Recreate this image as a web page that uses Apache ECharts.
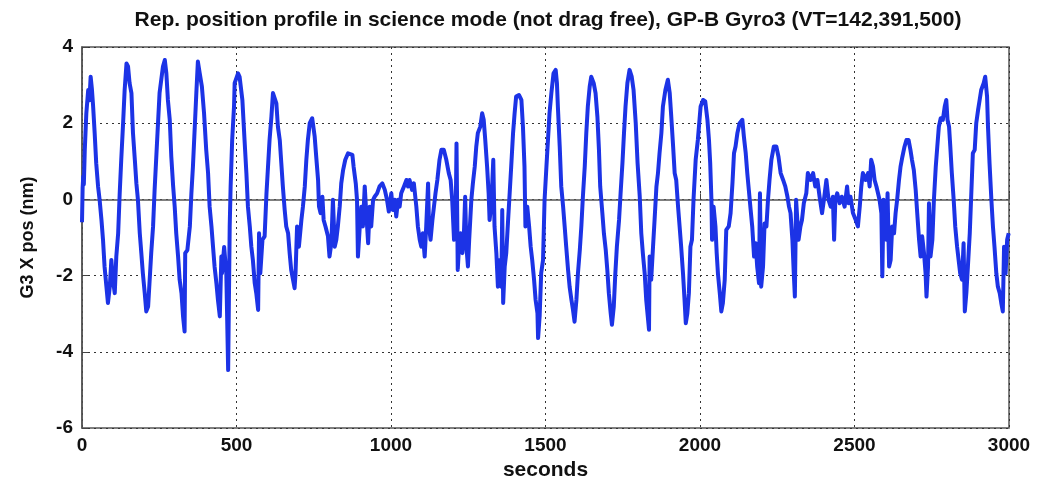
<!DOCTYPE html>
<html><head><meta charset="utf-8">
<script src="https://cdn.jsdelivr.net/npm/echarts@6/dist/echarts.min.js"></script>
<style>html,body{margin:0;padding:0;background:#fff}#c{width:1047px;height:492px}</style>
</head><body><div id="c"></div>
<script>
const titleText = 'Rep. position profile in science mode (not drag free), GP-B Gyro3 (VT=142,391,500)';
const xName = 'seconds';
const yName = 'G3 X pos (nm)';
const xTicks = [0, 500, 1000, 1500, 2000, 2500, 3000];
const yTicks = [-6, -4, -2, 0, 2, 4];

const seconds = [
0,2,4,6,9,14,20,24,28,32,36,41,46,52,57,63,68,73,79,84,90,95,100,106,111,117,122,127,133,138,144,149,154,160,165,171,176,181,187,192,197,203,208,214,219,224,230,235,241,246,251,262,268,273,278,284,289,295,300,305,311,316,322,327,332,334,341,349,354,359,365,370,375,381,388,395,402,408,413,419,424,429,435,440,446,451,453,460,467,473,478,481,486,492,
494,505,510,519,526,532,537,543,548,553,559,564,570,573,577,584,591,597,602,607,613,618,624,629,634,640,645,650,656,661,667,672,677,683,688,691,696,702,710,715,721,726,731,737,745,753,758,764,767,772,778,782,788,796,801,807,812,818,823,828,834,839,845,852,861,875,879,886,890,893,899,904,909,915,920,926,931,936,942,947,955,963,972,980,987,
993,1001,1006,1012,1017,1023,1028,1033,1042,1050,1055,1060,1068,1074,1082,1087,1093,1098,1103,1109,1114,1120,1123,1128,1134,1139,1144,1150,1157,1163,1171,1179,1187,1193,1198,1204,1209,1212,1216,1220,1225,1231,1236,1240,1244,1249,1253,1260,1265,1271,1276,1281,1289,1295,1300,1305,1311,1316,1319,1325,1331,1335,1341,1346,1352,1357,1360,1363,1368,1373,1379,1384,1389,1395,1400,1405,1414,1422,1427,1432,1435,1441,1447,1452,1457,1463,1468,1474,1476,1481,1486,1492,
1497,1503,1508,1513,1519,1526,1533,1537,1540,1546,1551,1557,1562,1567,1573,1578,1584,1589,1594,1600,1605,1611,1616,1621,1627,1632,1637,1643,1648,1656,1662,1668,1673,1677,1684,1689,1695,1700,1705,1711,1715,1721,1726,1731,1738,1743,1749,1754,1759,1765,1772,1779,1785,1792,1798,1805,1810,1815,1821,1826,1832,1835,1837,1842,1848,1853,1859,1864,1869,1875,1880,1888,1896,1902,1907,1913,1918,1923,1929,1934,1939,1945,1950,1954,1959,1964,1969,1974,1979,1986,1993,
2002,2010,2017,2024,2029,2033,2037,2039,2044,2050,2054,2058,2064,2069,2074,2080,2085,2093,2099,2105,2110,2115,2121,2128,2137,2142,2148,2153,2158,2164,2169,2175,2180,2185,2191,2194,2198,2204,2209,2215,2220,2225,2231,2239,2247,2254,2261,2269,2276,2283,2288,2293,2299,2303,2307,2311,2315,2319,2325,2330,2336,2344,2349,2358,2366,2373,2380,2387,2395,2401,2409,2416,2423,2430,2434,2438,2444,2452,2459,2468,2476,2481,2487,2495,
2504,2511,2517,2522,2527,2536,2544,2549,2554,2560,2565,2571,2576,2581,2587,2590,2594,2599,2603,2607,2612,2617,2622,2628,2633,2638,2644,2649,2655,2662,2668,2675,2681,2686,2692,2698,2703,2709,2714,2719,2725,2730,2733,2738,2741,2746,2752,2757,2763,2768,2773,2779,2786,2792,2797,2801,2806,2810,2815,2821,2826,2832,2837,2842,2848,2853,2857,2862,2867,2873,2878,2883,2889,2894,2900,2905,2910,2918,2923,2929,2932,2937,2943,2948,2953,2959,2964,2970,2975,2980,2984,2989,2994,2999
];
const posNm = [
-0.6,0.3,0.6,0.4,1.3,2.26,2.87,2.6,3.22,2.9,2.44,1.74,0.95,0.34,-0.01,-0.54,-1.06,-1.76,-2.29,-2.72,-2.29,-1.59,-2.11,-2.46,-1.5,-0.89,0.16,1.04,2.0,2.87,3.57,3.49,3.05,2.79,1.74,1.04,0.42,-0.01,-0.89,-1.41,-1.94,-2.46,-2.94,-2.81,-2.11,-1.41,-0.71,0.25,1.21,2.0,2.79,3.49,3.66,3.31,2.61,2.09,1.12,0.34,-0.19,-0.89,-1.5,-2.11,-2.46,-3.07,-3.47,-1.41,-1.33,-0.71,0.16,0.86,1.91,2.79,3.62,3.31,2.96,2.26,1.3,0.69,-0.19,-0.71,-1.24,-1.76,-2.2,-2.64,-3.07,-1.5,-1.94,-1.25,-1.94,-4.48,-0.71,0.34,1.56,2.44,
3.05,3.31,3.22,2.61,1.56,0.69,-0.19,-0.71,-1.24,-1.59,-2.2,-2.46,-2.9,-0.89,-1.94,-1.06,-0.97,0.16,0.86,1.56,2.17,2.79,2.74,2.52,1.91,1.56,0.95,0.34,-0.28,-0.71,-0.89,-1.41,-1.85,-2.11,-2.33,-1.94,-0.71,-1.24,-0.54,-0.19,0.34,1.04,1.56,2.0,2.13,1.65,1.12,0.51,-0.19,-0.36,0.07,-0.54,-0.71,-0.97,-1.5,-1.15,-0.01,-1.24,-1.06,-0.71,-0.19,0.42,0.77,1.04,1.21,1.17,0.86,0.42,-0.01,-1.5,-0.71,-0.19,-0.71,0.34,-0.36,-1.15,-0.19,-0.71,-0.01,0.07,0.16,0.34,0.42,0.25,-0.01,
-0.32,0.16,-0.28,-0.01,-0.45,-0.01,-0.19,0.16,0.34,0.51,0.34,0.51,0.25,0.42,-0.19,-0.71,-1.06,-1.24,-0.89,-1.5,-0.71,0.42,-0.71,-1.06,-0.54,-0.19,0.16,0.51,1.04,1.3,1.3,1.04,0.69,0.51,-0.01,-1.06,-0.71,1.47,-1.85,-1.24,-0.89,-1.41,-0.89,0.07,-1.24,-1.76,-1.06,-0.01,0.42,0.86,1.39,1.74,1.91,2.26,2.09,1.56,0.86,0.16,-0.54,-0.1,1.04,-0.71,-1.41,-2.29,-1.59,-2.29,-0.28,-2.72,-1.76,-1.41,-0.54,0.16,0.86,1.74,2.26,2.7,2.74,2.61,1.91,0.86,-0.71,-0.19,-0.71,-1.24,-1.59,-2.11,-2.64,-2.99,-3.64,-3.07,-1.94,-1.59,
-0.01,0.86,1.56,2.26,2.79,3.31,3.4,3.05,2.44,1.39,0.34,-0.19,-0.71,-1.24,-1.85,-2.29,-2.64,-2.9,-3.21,-2.64,-1.94,-1.33,-0.71,0.07,0.86,1.74,2.44,2.96,3.22,3.05,2.79,2.17,1.3,0.34,-0.36,-0.89,-1.33,-1.85,-2.46,-2.99,-3.29,-2.81,-1.94,-1.24,-0.54,0.16,0.95,1.74,2.44,3.05,3.4,3.22,2.87,2.0,0.95,0.07,-0.89,-1.41,-1.94,-2.64,-3.16,-3.42,-1.5,-2.11,-1.24,-0.54,0.34,0.69,1.21,1.74,2.44,2.87,3.14,2.79,2.17,1.39,0.69,0.51,-0.19,-0.71,-1.24,-1.94,-2.64,-3.25,-2.99,-2.46,-1.24,-1.06,-0.01,1.04,1.56,
2.44,2.61,2.57,2.09,1.56,0.95,-0.01,-1.06,-0.19,-0.71,-1.41,-1.94,-2.46,-2.94,-2.72,-2.11,-0.8,-0.71,-0.36,0.42,1.21,1.39,1.74,2.0,2.09,1.65,1.21,0.69,0.25,-0.28,-0.71,-1.5,-1.15,-1.76,-2.2,0.16,-2.29,-1.76,-0.63,-0.71,-0.01,0.51,1.04,1.39,1.39,1.12,0.69,0.51,0.34,0.07,-0.19,-0.36,-1.06,-1.85,-2.55,-0.01,-0.54,-1.06,-0.71,-0.54,-0.1,0.16,0.69,0.51,0.69,0.34,0.51,0.07,-0.36,-0.01,0.51,-0.01,-0.19,0.07,-1.06,-0.01,0.16,-0.1,0.07,-0.19,0.34,-0.1,0.07,-0.36,
-0.54,-0.71,-0.19,0.34,0.69,0.51,0.69,0.34,1.04,0.86,0.51,0.34,0.34,-0.01,-0.36,-2.02,-0.01,-0.71,-1.06,0.16,-1.76,-1.59,-0.71,-0.89,-0.36,-0.01,0.51,0.86,1.12,1.39,1.56,1.56,1.3,1.04,0.77,0.25,-0.36,-1.06,-1.5,-0.97,-1.41,-1.94,-2.55,-1.76,-0.1,-1.5,-1.06,-0.01,0.86,1.39,1.91,2.13,2.09,2.44,2.61,2.09,1.91,1.39,0.69,-0.01,-0.71,-1.24,-1.59,-1.94,-2.11,-1.15,-2.94,-2.46,-1.76,-0.89,0.16,1.21,1.3,2.0,2.35,2.61,2.87,3.05,3.22,2.7,1.91,0.95,-0.01,-0.71,-1.24,-1.94,-2.29,-2.46,-2.72,-2.94,-1.24,-1.94,-1.06,-0.89
];

const seriesData = seconds.map((s, i) => [s, posNm[i]]);
const font = 'Liberation Sans, Arial, Helvetica, sans-serif';
const chart = echarts.init(document.getElementById('c'), null, {renderer: 'canvas'});
chart.setOption({
  animation: false,
  backgroundColor: '#fff',
  title: {
    text: titleText, left: 543, top: 5, textAlign: 'center',
    textStyle: {fontFamily: font, fontSize: 21, fontWeight: 'bold', color: '#111'}
  },
  grid: {left: 82, right: 38, top: 47, bottom: 64, show: true, borderColor: '#555', borderWidth: 1.5},
  xAxis: {
    type: 'value', min: xTicks[0], max: xTicks[xTicks.length - 1], interval: 500,
    name: xName, nameLocation: 'middle', nameGap: 30,
    nameTextStyle: {fontFamily: font, fontSize: 21, fontWeight: 'bold', color: '#111'},
    axisLine: {show: true, lineStyle: {color: '#555', width: 1.5}},
    axisTick: {show: true, inside: true, length: 6, lineStyle: {color: '#444'}},
    axisLabel: {fontFamily: font, fontSize: 19, fontWeight: 'bold', color: '#111', margin: 8, formatter: v => String(v)},
    splitLine: {show: true, lineStyle: {type: [2, 4], color: '#333', width: 1}}
  },
  yAxis: {
    type: 'value', min: yTicks[0], max: yTicks[yTicks.length - 1], interval: 2,
    name: yName, nameLocation: 'middle', nameGap: 45, nameRotate: 90,
    nameTextStyle: {fontFamily: font, fontSize: 18, fontWeight: 'bold', color: '#111'},
    axisLine: {show: true, lineStyle: {color: '#555', width: 1.5}},
    axisTick: {show: true, inside: true, length: 6, lineStyle: {color: '#444'}},
    axisLabel: {fontFamily: font, fontSize: 19, fontWeight: 'bold', color: '#111', margin: 9, formatter: v => String(v)},
    splitLine: {show: true, lineStyle: {type: [2, 4], color: '#333', width: 1}}
  },
  series: [{
    type: 'line', data: seriesData, showSymbol: false, symbol: 'none',
    lineStyle: {color: '#1c33e6', width: 4, join: 'round'}, z: 3
  }]
});
</script>
</body></html>
